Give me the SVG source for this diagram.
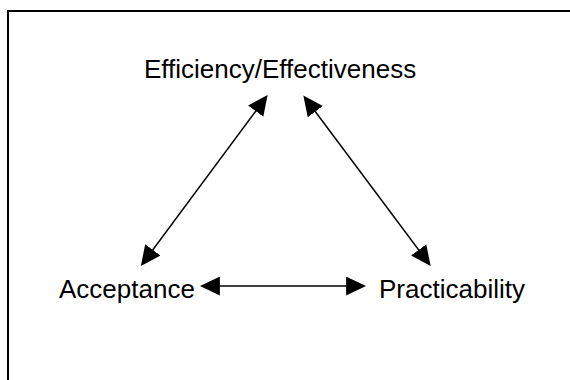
<svg xmlns="http://www.w3.org/2000/svg" width="570" height="380" viewBox="0 0 570 380">
  <style>
    .frame { fill: none; stroke: #000; stroke-width: 2; }
    .label { font-family: "Liberation Sans", Arial, sans-serif; font-size: 26px; fill: #000; }
    .conn { stroke: #000; stroke-width: 1.5; fill: none; marker-start: url(#arrow); marker-end: url(#arrow); }
  </style>
  <defs>
    <marker id="arrow" markerUnits="userSpaceOnUse" markerWidth="20" markerHeight="19" viewBox="0 0 18 17" refX="8" refY="8.5" orient="auto-start-reverse">
      <path d="M0,0 L18,8.5 L0,17 z" fill="#000"/>
    </marker>
  </defs>
  <rect width="570" height="380" fill="#fff"/>
  <rect class="frame" x="8" y="11" width="600" height="400"/>
  <g id="connectors">
    <line class="conn" x1="261" y1="104" x2="147.5" y2="257"/>
    <line class="conn" x1="310" y1="104.5" x2="424" y2="257"/>
    <line class="conn" x1="211" y1="286" x2="355" y2="286"/>
  </g>
  <g id="efficiency">
    <text class="label" x="144" y="78">Efficiency/Effectiveness</text>
  </g>
  <g id="acceptance">
    <text class="label" x="59" y="298">Acceptance</text>
  </g>
  <g id="practicability">
    <text class="label" x="379" y="298">Practicability</text>
  </g>
</svg>
